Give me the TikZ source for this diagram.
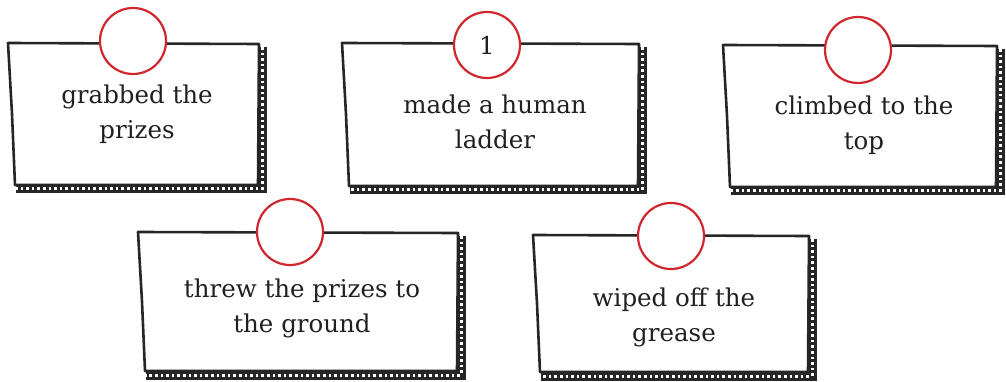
\documentclass[tikz,border=0pt]{standalone}
\usepackage{fontspec}
\setmainfont{DejaVu Serif}
\usepackage{tikz}

\definecolor{badgered}{HTML}{D0262D}
\definecolor{inkgray}{HTML}{231F20}

\tikzset{
  frame/.style={line width=2.6pt, draw=black!85, fill=white, line join=round},
  rail/.style={line width=9pt, draw=black!85},
  rungs/.style={line width=3pt, draw=white, dash pattern=on 2.6pt off 3pt},
  cardtext/.style={align=center, text=inkgray, font=\fontsize{24.5}{35}\selectfont},
  badge/.style={circle, draw=badgered, line width=2.2pt, fill=white, minimum size=66pt,
    inner sep=0pt, text=inkgray, font=\fontsize{24.5}{28}\selectfont}
}

\begin{document}
\begin{tikzpicture}[x=1pt, y=-1pt]
            \useasboundingbox (0,0) rectangle (1006,382);

            % Khung the: bong o canh phai va canh duoi
            \foreach \l/\t/\r/\b in {8/43/258/185, 342/43/638/186, 723/45/996/187,
                                     138/232/457/371, 533/235/808/372}{
              \draw[rail] (\r+4,\t+4) -- (\r+4,\b+4) -- (\l+8,\b+4);
              \draw[rungs] (\r+4,\t+4) -- (\r+4,\b+4) -- (\l+8,\b+4);
              \draw[frame] (\l,\t) -- (\r+1,\t+1) -- (\r,\b) -- (\l+7,\b)
                           -- (\l+4,{(\t+\b)/2}) -- cycle;
            }

            % Noi dung cac the
            \node[cardtext] (grab) at (137,114) {grabbed the\\prizes};
            \node[cardtext] (ladder) at (495,122) {made a human\\ladder};
            \node[cardtext] (climb) at (864,125) {climbed to the\\top};
            \node[cardtext] (throw) at (302,308) {threw the prizes to\\the ground};
            \node[cardtext] (wipe) at (674,317) {wiped off the\\grease};

            % Vong tron danh so
            \node[badge] (grabnum) at (133,41) {};
            \node[badge] (laddernum) at (487,45) {1};
            \node[badge] (climbnum) at (858,50) {};
            \node[badge] (thrownum) at (290,232) {};
            \node[badge] (wipenum) at (671,236) {};
\end{tikzpicture}
\end{document}
